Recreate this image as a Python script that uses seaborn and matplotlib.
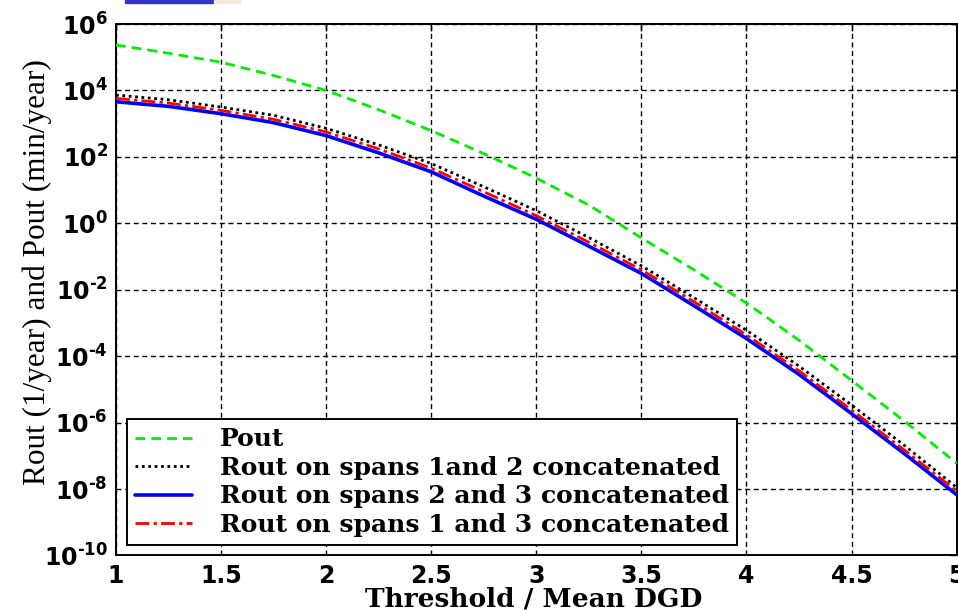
import matplotlib
matplotlib.use("Agg")
import numpy as np
import pandas as pd
import seaborn as sns
import matplotlib.pyplot as plt
from matplotlib.patches import Rectangle
from matplotlib.ticker import FixedLocator, NullLocator
from matplotlib.lines import Line2D

# ---- data (log10 of the values) ----
x_vals = [1.0, 1.25, 1.5, 1.75, 2.0, 2.25, 2.5, 2.75, 3.0, 3.25, 3.5, 3.75, 4.0, 4.25, 4.5, 4.75, 5.0]
pout_log = [5.37, 5.12, 4.85, 4.45, 4.00, 3.42, 2.79, 2.10, 1.36, 0.55, -0.44, -1.40, -2.40, -3.52, -4.73, -5.95, -7.22]
rout12_log = [3.86, 3.72, 3.50, 3.25, 2.86, 2.36, 1.80, 1.10, 0.38, -0.43, -1.28, -2.24, -3.22, -4.30, -5.47, -6.68, -7.95]
rout23_log = [3.66, 3.52, 3.30, 3.03, 2.64, 2.12, 1.55, 0.82, 0.12, -0.69, -1.51, -2.48, -3.47, -4.55, -5.73, -6.93, -8.17]
rout13_log = [3.76, 3.62, 3.40, 3.13, 2.75, 2.24, 1.66, 0.95, 0.23, -0.57, -1.40, -2.36, -3.36, -4.44, -5.62, -6.82, -8.06]

series_labels = ["Pout",
                 "Rout on spans 1and 2 concatenated",
                 "Rout on spans 2 and 3 concatenated",
                 "Rout on spans 1 and 3 concatenated"]
x_ticks = [1, 1.5, 2, 2.5, 3, 3.5, 4, 4.5, 5]
x_tick_labels = ["1", "1.5", "2", "2.5", "3", "3.5", "4", "4.5", "5"]
y_exponents = [-10, -8, -6, -4, -2, 0, 2, 4, 6]

# ---- style ----
sns.set_theme(style="white")
plt.rcParams["font.family"] = ["DejaVu Sans"]
plt.rcParams["text.color"] = "black"
plt.rcParams["axes.labelcolor"] = "black"
plt.rcParams["xtick.color"] = "black"
plt.rcParams["ytick.color"] = "black"
plt.rcParams["mathtext.fontset"] = "custom"
plt.rcParams["mathtext.rm"] = "DejaVu Sans:bold"
plt.rcParams["mathtext.bf"] = "DejaVu Sans:bold"
plt.rcParams["mathtext.it"] = "DejaVu Sans:bold"
plt.rcParams["mathtext.sf"] = "DejaVu Sans:bold"

WIDE_SERIF = ["DejaVu Serif"]
SERIF = ["Liberation Serif", "DejaVu Serif"]

fig = plt.figure(figsize=(9.58, 6.14), dpi=100)
fig.patch.set_facecolor("white")
ax = fig.add_axes([0.1211, 0.0953, 0.8775, 0.8656])

def frame(vals, name):
    return pd.DataFrame({"x": x_vals, "y": np.power(10.0, vals), "s": name})

styles = {
    series_labels[2]: dict(color="#0000ff", linestyle="-", linewidth=2.6, zorder=3),
    series_labels[3]: dict(color="#ff0000", linestyle=(0, (5, 1.5, 1.2, 1.5)), linewidth=2.0, zorder=4),
    series_labels[1]: dict(color="#000000", linestyle=(0, (1, 1.3)), linewidth=2.0, zorder=5),
    series_labels[0]: dict(color="#00ee00", linestyle=(0, (3.5, 2.2)), linewidth=2.0, zorder=6),
}
data_map = {series_labels[0]: pout_log, series_labels[1]: rout12_log,
            series_labels[2]: rout23_log, series_labels[3]: rout13_log}

for name in [series_labels[2], series_labels[3], series_labels[1], series_labels[0]]:
    st = styles[name]
    sns.lineplot(data=frame(data_map[name], name), x="x", y="y", ax=ax,
                 color=st["color"], linestyle=st["linestyle"],
                 linewidth=st["linewidth"], zorder=st["zorder"], legend=False)

ax.set_yscale("log")
ax.set_xlim(1, 5)
ax.set_ylim(1e-10, 1e6)

ax.xaxis.set_major_locator(FixedLocator(x_ticks))
ax.set_xticklabels(x_tick_labels, fontsize=17, fontweight="bold")
ax.yaxis.set_major_locator(FixedLocator([10.0 ** e for e in y_exponents]))
ax.yaxis.set_minor_locator(NullLocator())

def ylab(e):
    if e < 0:
        return r"$10^{\text{-}%d}$" % (-e)
    return r"$10^{%d}$" % e

ax.set_yticklabels([ylab(e) for e in y_exponents], fontsize=17)

ax.tick_params(direction="in", top=True, right=True, length=5, width=1.0,
               colors="black")
ax.tick_params(axis="y", pad=6)
ax.tick_params(axis="x", pad=6)

ax.grid(True, which="major", color="black", linestyle=(0, (3.6, 2.6)), linewidth=1.0)
for sp in ax.spines.values():
    sp.set_color("black")
    sp.set_linewidth(1.4)

ax.set_xlabel("Threshold / Mean DGD", family=WIDE_SERIF, fontsize=19,
              fontweight="bold", color="black")
ax.xaxis.set_label_coords(0.497, -0.0969)
ax.xaxis.label.set_va("baseline")
ax.set_ylabel("Rout (1/year) and Pout (min/year)", family=SERIF, fontsize=22.5,
              color="black")
ax.yaxis.set_label_coords(-0.076, 0.533)

handles = [Line2D([], [], color=styles[n]["color"], linestyle=styles[n]["linestyle"],
                  linewidth=styles[n]["linewidth"]) for n in series_labels]
leg = ax.legend(handles, series_labels, loc="lower left",
                bbox_to_anchor=(0.0131, 0.0198), borderaxespad=0,
                prop={"family": WIDE_SERIF, "size": 18, "weight": "bold"},
                handlelength=2.28, handletextpad=1.1, labelspacing=0.18,
                borderpad=0.32, fancybox=False, framealpha=1, edgecolor="black",
                labelcolor="black")
leg.get_frame().set_linewidth(1.4)
leg.set_zorder(10)

# small coloured strip at the top edge of the original picture
fig.patches.append(Rectangle((125 / 958, 1 - 3 / 614), 89 / 958, 3 / 614,
                             transform=fig.transFigure, color="#3333cc", zorder=20))
fig.patches.append(Rectangle((214 / 958, 1 - 3 / 614), 26 / 958, 3 / 614,
                             transform=fig.transFigure, color="#f6e9dc", zorder=20))

fig.savefig("out.png", dpi=100)
